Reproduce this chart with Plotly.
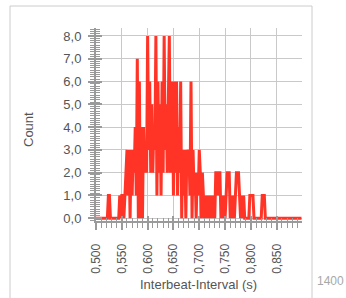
import plotly.graph_objects as go

# ---- data: counts per 2 ms bin, bins starting at 0.500 s ----
bin_start = 0.500
bin_width = 0.002
counts = [
    0, 0, 0, 0, 0, 0, 0, 0, 0, 0,      # 0.500-0.518
    0, 0, 1, 1, 0, 0, 0, 0, 0, 0,      # 0.520-0.538
    0, 0, 0, 1, 0, 1, 1, 0, 1, 2,      # 0.540-0.558
    3, 1, 3, 0, 3, 1, 3, 2, 4, 1,      # 0.560-0.578
    7, 0, 6, 0, 4, 0, 4, 2, 3, 2,      # 0.580-0.598
    8, 3, 6, 2, 5, 2, 4, 3, 8, 1,      # 0.600-0.618
    6, 2, 5, 1, 6, 2, 8, 3, 5, 2,      # 0.620-0.638
    5, 8, 2, 5, 6, 1, 6, 2, 6, 1,      # 0.640-0.658
    4, 2, 6, 0, 3, 1, 3, 0, 3, 2,      # 0.660-0.678
    3, 1, 6, 0, 3, 1, 2, 0, 2, 1,      # 0.680-0.698
    3, 2, 0, 2, 1, 0, 1, 0, 1, 0,      # 0.700-0.718
    1, 0, 1, 0, 1, 0, 2, 2, 1, 2,      # 0.720-0.738
    2, 0, 1, 0, 1, 0, 1, 2, 2, 2,      # 0.740-0.758
    0, 1, 0, 1, 0, 1, 2, 2, 2, 1,      # 0.760-0.778
    0, 1, 0, 1, 0, 0, 0, 0, 0, 1,      # 0.780-0.798
    1, 1, 1, 0, 0, 0, 0, 0, 0, 0,      # 0.800-0.818
    0, 1, 1, 1, 0, 0, 0, 0, 0, 0,      # 0.820-0.838
    0, 0, 0, 0, 0, 0, 0, 0, 0, 0,      # 0.840-0.858
    0, 0, 0, 0, 0, 0, 0, 0, 0, 0,      # 0.860-0.878
    0, 0, 0, 0, 0, 0, 0, 0, 0, 0,      # 0.880-0.898
]
x_vals = [round(bin_start + i * bin_width, 3) for i in range(len(counts))]

x_title = "Interbeat-Interval (s)"
y_title = "Count"
x_range = [0.5, 0.899]
y_range = [-0.12, 8.35]

W, H = 346, 298
L, R, T, B = 96, 44, 28, 77
PW, PH = W - L - R, H - T - B


def px(x):
    return (x - L) / PW


def py(y):
    return (H - B - y) / PH


AX = "#9a9a9a"
GRID = "#c9c9c9"
TXT = "#555555"
FONT = "Liberation Sans, Arial, sans-serif"

fig = go.Figure()
fig.add_trace(go.Scatter(x=x_vals, y=counts, mode="lines",
                         line=dict(color="#ff3326", width=3),
                         hoverinfo="skip", showlegend=False))
# invisible trace to activate the overlay axes (inside ticks)
fig.add_trace(go.Scatter(x=[0.5], y=[0], xaxis="x2", yaxis="y2", mode="markers",
                         marker=dict(opacity=0), showlegend=False, hoverinfo="skip"))

fig.update_layout(
    width=W, height=H,
    margin=dict(l=L, r=R, t=T, b=B),
    paper_bgcolor="white", plot_bgcolor="white",
    separators=", ",
    font=dict(family=FONT, color=TXT, size=12),
    xaxis=dict(range=x_range, dtick=0.05, tick0=0.5, tickformat=".3f",
               tickangle=-90, showgrid=True, gridcolor=GRID, gridwidth=1,
               showline=True, linecolor=AX, linewidth=2,
               ticks="outside", ticklen=7, tickwidth=2, tickcolor=AX,
               minor=dict(dtick=0.01, ticks="outside", ticklen=5, tickwidth=1,
                          tickcolor=AX, showgrid=False),
               tickfont=dict(size=12, color=TXT), ticklabelstandoff=9,
               zeroline=False, fixedrange=True),
    yaxis=dict(range=y_range, dtick=1, tick0=0, tickformat=".1f",
               showgrid=True, gridcolor=GRID, gridwidth=1,
               showline=True, linecolor=AX, linewidth=2,
               ticks="outside", ticklen=6, tickwidth=2, tickcolor=AX,
               minor=dict(dtick=0.1, ticks="outside", ticklen=4, tickwidth=1,
                          tickcolor=AX, showgrid=False),
               tickfont=dict(size=13, color=TXT), ticklabelstandoff=4,
               zeroline=False, fixedrange=True),
    xaxis2=dict(range=x_range, overlaying="x", anchor="y", side="bottom",
                dtick=0.05, tick0=0.5, showticklabels=False, showgrid=False,
                ticks="inside", ticklen=5, tickwidth=2, tickcolor=AX,
                minor=dict(dtick=0.01, ticks="inside", ticklen=3, tickwidth=1,
                           tickcolor=AX),
                showline=False, zeroline=False, fixedrange=True),
    yaxis2=dict(range=y_range, overlaying="y", anchor="x", side="left",
                dtick=1, tick0=0, showticklabels=False, showgrid=False,
                ticks="inside", ticklen=6, tickwidth=2, tickcolor=AX,
                minor=dict(dtick=0.1, ticks="inside", ticklen=4, tickwidth=1,
                           tickcolor=AX),
                showline=False, zeroline=False, fixedrange=True),
)

# axis titles and page fragments
fig.add_annotation(text=y_title, xref="paper", yref="paper", x=px(28), y=py(130),
                   xanchor="center", yanchor="middle",
                   textangle=-90, showarrow=False, font=dict(size=13, color=TXT))
fig.add_annotation(text=x_title, xref="paper", yref="paper", x=px(198), y=py(284),
                   xanchor="center", yanchor="middle",
                   showarrow=False, font=dict(size=13, color=TXT))
fig.add_annotation(text="1400", xref="paper", yref="paper", x=px(330), y=py(281),
                   xanchor="center", yanchor="middle",
                   showarrow=False, font=dict(size=12, color="#a8a8a8"))

# surrounding frame lines and y-axis extension below the x axis
frame = dict(color="#cccccc", width=1)
fig.add_shape(type="line", xref="paper", yref="paper", x0=px(10), x1=px(10),
              y0=py(6), y1=py(300), line=frame)
fig.add_shape(type="line", xref="paper", yref="paper", x0=px(10), x1=px(312),
              y0=py(6), y1=py(6), line=frame)
fig.add_shape(type="line", xref="paper", yref="paper", x0=px(312), x1=px(312),
              y0=py(6), y1=py(300), line=frame)
fig.add_shape(type="line", xref="paper", yref="paper", x0=0, x1=0,
              y0=0, y1=py(229), line=dict(color=AX, width=2))

fig.write_html("out.html", config={"displayModeBar": False},
               post_script="document.body.style.margin='0';document.body.style.overflow='hidden';")
